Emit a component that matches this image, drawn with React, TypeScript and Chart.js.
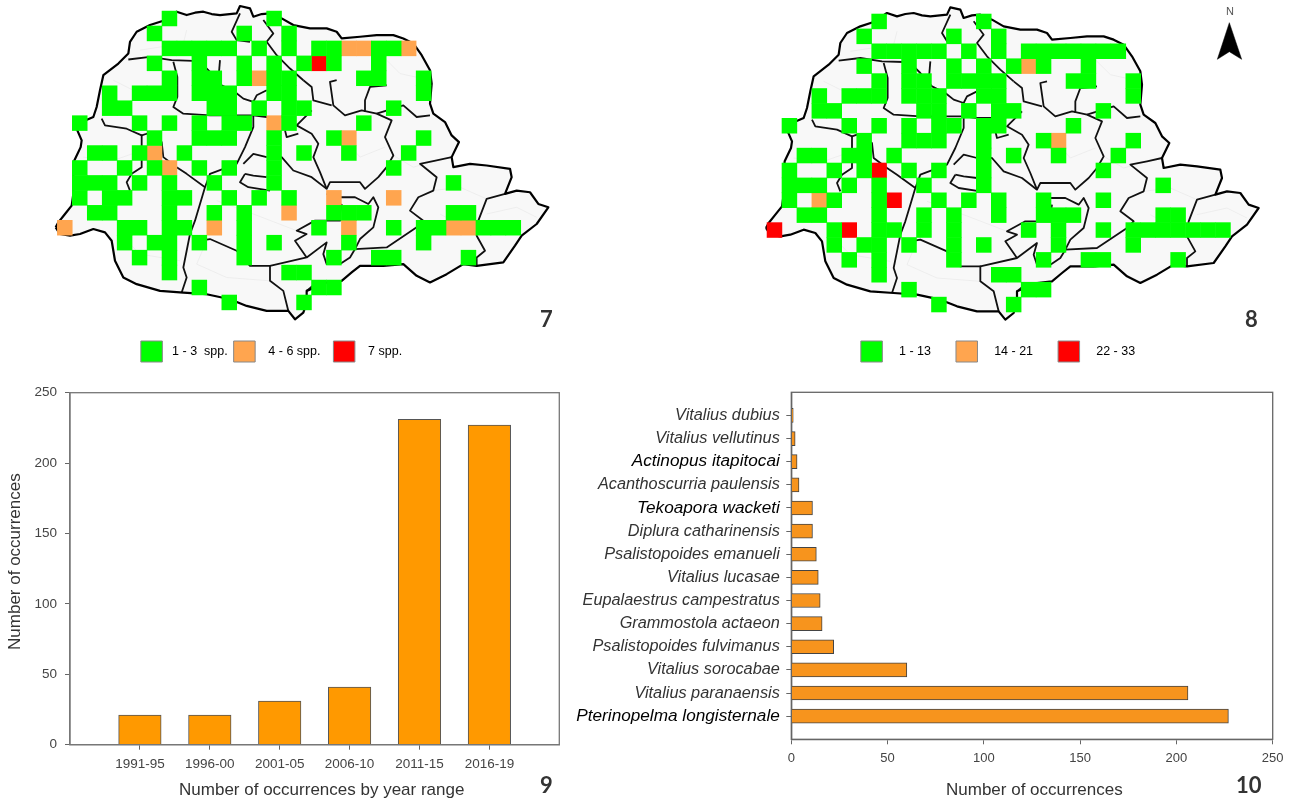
import React, { useEffect, useRef } from "react";
import { Chart, registerables } from "chart.js";

Chart.register(...registerables);

// ---------- data ----------
const yearRanges = ["", "1991-95", "1996-00", "2001-05", "2006-10", "2011-15", "2016-19", ""];
const yearValues = [null, 21, 21, 31, 41, 231, 227, null];

const speciesNames = [
  "", "Vitalius dubius", "Vitalius vellutinus", "Actinopus itapitocai", "Acanthoscurria paulensis",
  "Tekoapora wacketi", "Diplura catharinensis", "Psalistopoides emanueli", "Vitalius lucasae",
  "Eupalaestrus campestratus", "Grammostola actaeon", "Psalistopoides fulvimanus",
  "Vitalius sorocabae", "Vitalius paranaensis", "Pterinopelma longisternale", "",
];
const speciesValues = [null, 1, 2, 3, 4, 11, 11, 13, 14, 15, 16, 22, 60, 206, 227, null];
const darkSpecies = ["Actinopus itapitocai", "Tekoapora wacketi", "Pterinopelma longisternale"];

// grid cells: one list of columns per row
const map7Low = [
  [7, 14], [6, 12, 15], [7, 8, 9, 10, 11, 13, 15, 17, 18, 21, 22], [6, 9, 12, 14, 16, 18, 21],
  [7, 9, 10, 12, 14, 15, 20, 21, 24], [3, 5, 6, 7, 9, 10, 11, 14, 15, 24], [3, 4, 10, 11, 13, 15, 16, 22],
  [1, 5, 7, 9, 11, 12, 15, 20], [6, 9, 10, 11, 14, 18, 24], [2, 3, 5, 8, 14, 16, 19, 23],
  [1, 4, 6, 9, 11, 14, 22], [1, 2, 3, 5, 7, 10, 14, 26], [1, 3, 4, 7, 8, 11, 13, 15],
  [2, 3, 7, 10, 12, 18, 19, 20, 26, 27], [4, 5, 7, 8, 12, 17, 22, 24, 25, 28, 29, 30],
  [4, 6, 7, 9, 12, 14, 19, 24], [5, 7, 12, 18, 21, 22, 27], [7, 15, 16], [9, 17, 18], [11, 16],
];
const map7Mid = [
  [], [], [19, 20, 23], [], [13], [], [], [14], [19], [6], [7], [], [18, 22], [15], [0, 10, 19, 26, 27],
];
const map7High = [[], [], [], [17]];

const map8Low = [
  [7, 14], [6, 12, 15], [7, 8, 9, 10, 11, 13, 15, 17, 18, 19, 20, 21, 22, 23], [6, 9, 12, 14, 16, 18, 21],
  [7, 9, 10, 12, 13, 14, 15, 20, 21, 24], [3, 5, 6, 7, 9, 10, 11, 14, 15, 24], [3, 4, 10, 11, 13, 15, 16, 22],
  [1, 5, 7, 9, 11, 12, 14, 15, 20], [6, 9, 10, 11, 14, 18, 24], [2, 3, 5, 6, 8, 14, 16, 19, 23],
  [1, 4, 6, 9, 11, 14, 22], [1, 2, 3, 5, 7, 10, 14, 26], [1, 4, 7, 11, 13, 15, 18, 22],
  [2, 3, 7, 10, 12, 15, 18, 19, 20, 26, 27], [4, 7, 8, 10, 12, 17, 19, 22, 24, 25, 26, 27, 28, 29, 30],
  [4, 6, 7, 9, 12, 14, 19, 24], [5, 7, 12, 18, 21, 22, 27], [7, 15, 16], [9, 17, 18], [11, 16],
];
const map8Mid = [[], [], [], [17], [], [], [], [], [19], [], [], [], [3]];
const map8High = [[], [], [], [], [], [], [], [], [], [], [7], [], [8], [], [0, 5]];

const map7Labels = [" 1 - 3  spp.", "  4 - 6 spp.  ", "  7 spp."];
const map8Labels = ["   1 - 13", "   14 - 21", "   22 - 33"];

// state outline and region borders, in map units (1 grid cell = 44.85 wide, 44.7 high)
const stateOutline = [
  [47, 680], [55, 665], [75, 640], [95, 615], [100, 580], [100, 520], [103, 480], [122, 440], [125, 420], [112, 390],
  [125, 365], [160, 350], [170, 320], [180, 270], [190, 225], [235, 190], [265, 160], [270, 125], [290, 95], [330, 75],
  [370, 62], [410, 35], [440, 45], [465, 38], [490, 35], [515, 42], [540, 45], [590, 40], [600, 18], [630, 25], [640, 50], [665, 42], [690, 40],
  [725, 55], [760, 75], [810, 85], [860, 85], [890, 95], [905, 115], [960, 110], [1010, 105], [1060, 105], [1090, 115],
  [1120, 130], [1145, 165], [1170, 210], [1175, 250], [1170, 310], [1180, 340], [1215, 365], [1235, 405], [1257, 425],
  [1235, 470], [1240, 500], [1290, 490], [1340, 495], [1410, 505], [1415, 530], [1395, 580], [1430, 570], [1470, 575],
  [1495, 610], [1525, 620], [1490, 670], [1445, 705], [1425, 735], [1390, 785], [1310, 795], [1270, 790], [1220, 820],
  [1170, 845], [1130, 825], [1090, 790], [1030, 795], [960, 795], [935, 815], [905, 840], [860, 845], [800, 870],
  [800, 905], [790, 935], [765, 955], [745, 930], [680, 930], [620, 915], [570, 895], [500, 880], [430, 875], [360, 870],
  [290, 850], [250, 830], [225, 780], [215, 720], [195, 695], [160, 685], [120, 700], [90, 705], [60, 700], [47, 680],
];
const regionBorders = [
  [[265, 178], [330, 170], [395, 180], [460, 182], [490, 195], [510, 215], [545, 255], [585, 275], [610, 295], [640, 305], [650, 285], [680, 270]],
  [[400, 185], [412, 230], [412, 290], [400, 320], [430, 340], [510, 345], [590, 345], [640, 345], [680, 350], [725, 350]],
  [[540, 180], [535, 240]],
  [[185, 355], [195, 375], [260, 385], [305, 405], [320, 400], [365, 425], [370, 470], [410, 500], [440, 520], [495, 560], [480, 610], [465, 660], [450, 700], [440, 750], [430, 800], [440, 830], [425, 875]],
  [[305, 405], [305, 500], [275, 520], [260, 545], [270, 570]],
  [[495, 560], [510, 520], [590, 490], [615, 440], [640, 380], [640, 345]],
  [[610, 490], [640, 460], [680, 470]],
  [[615, 520], [640, 525], [680, 530]],
  [[615, 520], [600, 545], [625, 560], [690, 570]],
  [[680, 470], [725, 470], [760, 510], [815, 530], [860, 565], [870, 545], [960, 545], [975, 565], [1015, 530], [1040, 500], [1060, 465], [1035, 410], [1055, 360], [1010, 340], [965, 330], [915, 345], [880, 315], [870, 245], [890, 240]],
  [[815, 330], [770, 375], [815, 400], [835, 430], [820, 470], [840, 515], [860, 565]],
  [[735, 390], [740, 410], [775, 400]],
  [[790, 240], [815, 260], [820, 300], [875, 315]],
  [[975, 335], [975, 300], [990, 260], [1040, 255]],
  [[1010, 340], [1090, 315], [1130, 350], [1170, 345]],
  [[860, 580], [900, 590], [945, 590], [985, 610], [1000, 590], [1015, 620], [1000, 680], [960, 715], [945, 745], [930, 770], [900, 790], [860, 790], [850, 760], [860, 725], [800, 770], [690, 795], [630, 795], [590, 750], [510, 715], [480, 720]],
  [[945, 745], [1040, 740], [1130, 680], [1150, 660], [1110, 630], [1135, 590], [1180, 570], [1190, 530], [1140, 490], [1190, 480], [1235, 470]],
  [[1395, 580], [1340, 595], [1315, 660], [1310, 705], [1335, 750], [1310, 770], [1310, 795]],
  [[905, 610], [900, 640], [900, 660], [825, 660], [770, 690], [800, 700], [765, 720], [800, 770]],
  [[690, 795], [690, 840], [730, 870], [745, 930]],
  [[800, 870], [830, 845]],
  [[600, 40], [575, 95], [590, 120], [630, 125]],
  [[670, 60], [700, 100], [680, 125], [710, 165], [750, 205], [790, 240]],
];
const faintBorders = [
  [[1180, 570], [1260, 560], [1340, 595]], [[1060, 465], [1120, 500], [1190, 480]], [[500, 720], [470, 790], [560, 830], [690, 840]],
  [[130, 470], [220, 480], [305, 450]], [[240, 700], [300, 760], [420, 780]], [[530, 600], [640, 640], [770, 690]],
  [[440, 90], [430, 130], [300, 150]], [[220, 240], [300, 280], [400, 260]], [[900, 400], [960, 470], [1035, 440]],
  [[1200, 640], [1290, 690], [1310, 705]], [[1000, 140], [1080, 220], [1170, 240]], [[1340, 640], [1430, 620], [1490, 650]],
];
const northArrow = [[1439, 59], [1403, 169], [1439, 146], [1476, 169], [1439, 59]];

const GREEN = "#00ff00";
const ORANGE = "#ffa54f";
const RED = "#ff0000";
const CELL_W = 44.85;
const CELL_H = 44.7;
const MAP_X0 = 52;
const MAP_Y0 = 33;

const toPoints = (rows: number[][]) =>
  rows.flatMap((cols, r) =>
    cols.map((c) => ({ x: MAP_X0 + (c + 0.5) * CELL_W, y: MAP_Y0 + (r + 0.5) * CELL_H }))
  );
const shift = (line: number[][], dx: number, dy: number) => line.map(([x, y]) => ({ x: x + dx, y: y + dy }));

const framePlugin = (color: string) => ({
  id: "frame",
  afterDraw(chart: any) {
    const { ctx, chartArea: a } = chart;
    ctx.save();
    ctx.strokeStyle = color;
    ctx.lineWidth = 1.3;
    ctx.strokeRect(a.left, a.top, a.right - a.left, a.bottom - a.top);
    ctx.restore();
  },
});

function useChart(build: (canvas: HTMLCanvasElement) => Chart) {
  const ref = useRef<HTMLCanvasElement>(null);
  useEffect(() => {
    const chart = build(ref.current as HTMLCanvasElement);
    return () => chart.destroy();
  }, []);
  return ref;
}

function buildMap(canvas: HTMLCanvasElement, p: any) {
  const line = (pts: any[], color: string, width: number, extra: any = {}) => ({
    type: "scatter", data: pts, showLine: true, pointRadius: 0, borderColor: color, borderWidth: width,
    borderJoinStyle: "round", clip: false, order: 5, ...extra,
  });
  const cells = (rows: number[][], color: string) => ({
    type: "scatter", data: toPoints(rows), backgroundColor: color, borderWidth: 0, pointStyle: "rect",
    pointRadius: 10.96, pointHoverRadius: 10.96, clip: false, order: 1,
  });
  const datasets: any[] = [
    cells(p.low, GREEN), cells(p.mid, ORANGE), cells(p.high, RED),
    line(shift(stateOutline, p.dx, p.dy), "#000000", 2.2, { order: 2 }),
    ...regionBorders.map((b) => line(shift(b, p.dx, p.dy), "#111111", 1.8, { order: 3 })),
    ...faintBorders.map((b) => line(shift(b, p.dx, p.dy), "#ebebeb", 0.8, { order: 4 })),
    line(shift(stateOutline, p.dx, p.dy), "rgba(0,0,0,0)", 0, { fill: "shape", backgroundColor: "#f8f8f8", order: 6 }),
  ];
  if (p.arrow) {
    datasets.push(line(shift(p.arrow, 0, 0), "#000000", 0.5, { fill: "shape", backgroundColor: "#000000", order: 2 }));
  }
  const colors = [GREEN, ORANGE, RED];
  return new Chart(canvas, {
    data: { datasets },
    options: {
      animation: false,
      responsive: false,
      events: [],
      layout: { padding: 0, autoPadding: false },
      scales: {
        x: { type: "linear", display: false, min: p.xMin, max: p.xMax },
        y: { type: "linear", display: false, reverse: true, min: p.yMin, max: p.yMax },
      },
      plugins: {
        tooltip: { enabled: false },
        filler: { propagate: false },
        legend: {
          position: "bottom",
          align: "center",
          labels: {
            boxWidth: 21.5,
            boxHeight: 21,
            padding: p.legendPadding,
            color: "#333333",
            font: { family: "'Liberation Sans'", size: p.legendFont },
            generateLabels: () =>
              p.labels.map((text: string, i: number) => ({
                text, fillStyle: colors[i], strokeStyle: "#888888", lineWidth: 1, hidden: false, datasetIndex: i,
              })),
          },
        },
      },
    } as any,
  } as any);
}

function buildYears(canvas: HTMLCanvasElement) {
  return new Chart(canvas, {
    type: "bar",
    data: {
      labels: yearRanges,
      datasets: [{ data: yearValues, backgroundColor: "#ff9900", borderColor: "#555555", borderWidth: 1, barThickness: 42.5 }],
    },
    plugins: [framePlugin("#777777")],
    options: {
      animation: false,
      responsive: false,
      events: [],
      layout: { padding: { top: 17.7, right: 10.7, left: 0, bottom: 0 }, autoPadding: false },
      plugins: { legend: { display: false }, tooltip: { enabled: false } },
      scales: {
        x: {
          offset: false,
          afterFit: (s: any) => { s.height = 56.3; },
          border: { color: "#777777", width: 1.3 },
          grid: {
            offset: false, drawOnChartArea: false, tickLength: 5,
            tickColor: (c: any) => (yearRanges[c.index] ? "#666666" : "rgba(0,0,0,0)"),
          },
          ticks: { autoSkip: false, maxRotation: 0, padding: 6, color: "#444444", font: { family: "'Liberation Sans'", size: 13.5 } },
          title: {
            display: true, text: "   Number of occurrences by year range", color: "#333333",
            padding: { top: 0, bottom: 0 }, font: { family: "'Liberation Sans'", size: 17 },
          },
        },
        y: {
          min: 0, max: 250,
          afterFit: (s: any) => { s.width = 70; },
          border: { color: "#777777", width: 1.3 },
          grid: { drawOnChartArea: false, tickLength: 5, tickColor: "#666666" },
          ticks: { stepSize: 50, padding: 8, color: "#444444", font: { family: "'Liberation Sans'", size: 13.5 } },
          title: {
            display: true, text: "   Number of occurrences", color: "#333333",
            padding: { top: 5, bottom: 0 }, font: { family: "'Liberation Sans'", size: 17 },
          },
        },
      },
    } as any,
  } as any);
}

function buildSpecies(canvas: HTMLCanvasElement) {
  return new Chart(canvas, {
    type: "bar",
    data: {
      labels: speciesNames,
      datasets: [{ data: speciesValues, backgroundColor: "#f7941d", borderColor: "#444444", borderWidth: 1, barThickness: 14 }],
    },
    plugins: [framePlugin("#666666")],
    options: {
      indexAxis: "y",
      animation: false,
      responsive: false,
      events: [],
      layout: { padding: { top: 12.3, right: 20.3, left: 0, bottom: 0 }, autoPadding: false },
      plugins: { legend: { display: false }, tooltip: { enabled: false } },
      scales: {
        x: {
          min: 0, max: 250,
          afterFit: (s: any) => { s.height = 61.7; },
          border: { color: "#666666", width: 1.3 },
          grid: { drawOnChartArea: false, tickLength: 5, tickColor: "#666666" },
          ticks: { stepSize: 50, padding: 6, maxRotation: 0, color: "#444444", font: { family: "'Liberation Sans'", size: 13 } },
          title: {
            display: true, text: " Number of occurrences", color: "#333333",
            padding: { top: 0, bottom: 0 }, font: { family: "'Liberation Sans'", size: 17 },
          },
        },
        y: {
          offset: false,
          afterFit: (s: any) => { s.width = 221.3; s.paddingTop = 0; s.paddingBottom = 0; },
          border: { color: "#444444", width: 1.3 },
          grid: {
            offset: false, drawOnChartArea: false, tickLength: 5,
            tickColor: (c: any) => (speciesNames[c.index] ? "#666666" : "rgba(0,0,0,0)"),
          },
          ticks: {
            autoSkip: false, padding: 6.5,
            color: (c: any) => (darkSpecies.includes(speciesNames[c.index]) ? "#000000" : "#333333"),
            font: (c: any) => ({
              family: "'Liberation Sans'", style: "italic",
              size: darkSpecies.includes(speciesNames[c.index]) ? 17.2 : 16.3,
            }),
          },
        },
      },
    } as any,
  } as any);
}

const canvasStyle = (left: number, top: number): React.CSSProperties => ({
  position: "absolute", left, top, filter: "blur(0.35px)",
});
const numStyle = (left: number, top: number): React.CSSProperties => ({
  position: "absolute", left, top, font: "700 22px/22px Lato", color: "#333333",
});

export default function App() {
  const map7 = useChart((c) =>
    buildMap(c, {
      low: map7Low, mid: map7Mid, high: map7High, labels: map7Labels,
      dx: 0, dy: 0, xMin: -153, xMax: 1542, yMin: 0, yMax: 1002, legendPadding: 6, legendFont: 12.5,
    })
  );
  const map8 = useChart((c) =>
    buildMap(c, {
      low: map8Low, mid: map8Mid, high: map8High, labels: map8Labels, arrow: northArrow,
      dx: 2, dy: -5, xMin: -53, xMax: 1543, yMin: -9, yMax: 939, legendPadding: 25, legendFont: 12.5,
    })
  );
  const years = useChart(buildYears);
  const species = useChart(buildSpecies);
  return (
    <div style={{ position: "fixed", left: 0, top: 0, width: 1293, height: 801, overflow: "hidden", background: "#fff" }}>
      <canvas ref={map7} width={565} height={372} style={canvasStyle(-11, 0)} />
      <canvas ref={map8} width={532} height={372} style={canvasStyle(732, 0)} />
      <canvas ref={years} width={570} height={426} style={canvasStyle(0, 375)} />
      <canvas ref={species} width={723} height={421} style={canvasStyle(570, 380)} />
      <div style={numStyle(540, 308)}>7</div>
      <div style={numStyle(1245, 308)}>8</div>
      <div style={numStyle(540, 774)}>9</div>
      <div style={numStyle(1236, 774)}>10</div>
      <div style={{ position: "absolute", left: 1226, top: 5, font: "11px/12px 'Liberation Sans'", color: "#555" }}>N</div>
    </div>
  );
}
